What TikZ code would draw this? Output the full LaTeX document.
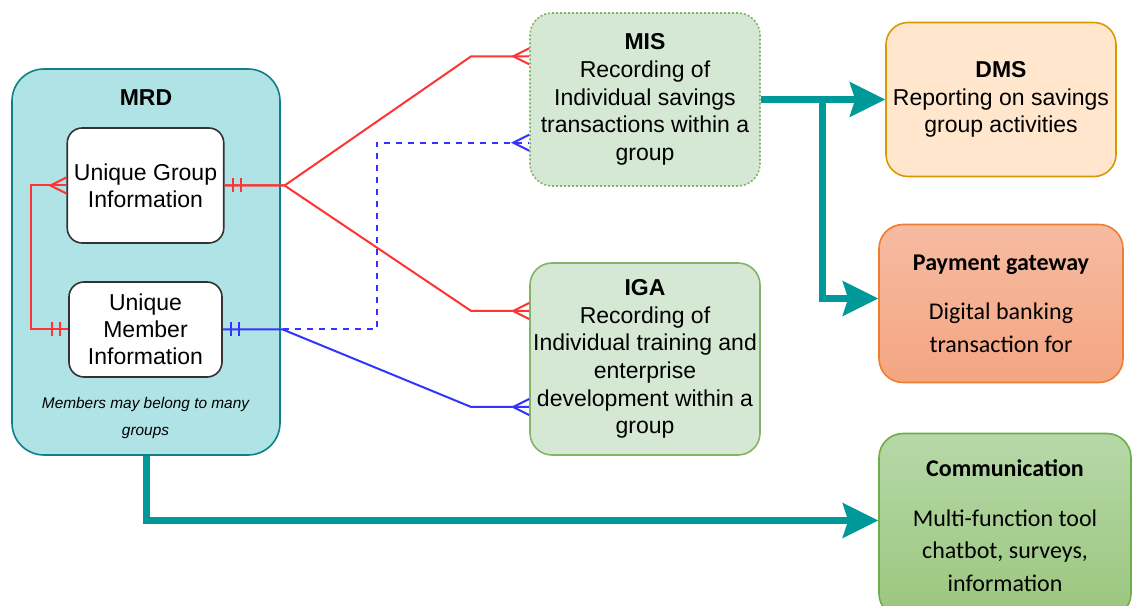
\documentclass[tikz,border=0pt]{standalone}
\usepackage{fontspec}
\setmainfont{Liberation Sans}
\newfontfamily\calibri{Carlito}
\usetikzlibrary{arrows.meta,decorations.markings}

\definecolor{mrdfill}{HTML}{B0E3E6}
\definecolor{mrdline}{HTML}{0E8088}
\definecolor{misfill}{HTML}{D5E8D4}
\definecolor{misline}{HTML}{82B366}
\definecolor{dmsfill}{HTML}{FFE6CC}
\definecolor{dmsline}{HTML}{D79B00}
\definecolor{paytop}{HTML}{F6BBA2}
\definecolor{paybot}{HTML}{F4A581}
\definecolor{payline}{HTML}{ED7D31}
\definecolor{comtop}{HTML}{B6D8A8}
\definecolor{combot}{HTML}{9BC67E}
\definecolor{comline}{HTML}{70AD47}
\definecolor{flowteal}{HTML}{009999}
\definecolor{relred}{HTML}{FF3333}
\definecolor{relblue}{HTML}{3333FF}

\tikzstyle{container} = [rectangle, rounded corners=16pt, draw=mrdline, fill=mrdfill, line width=0.8pt, minimum width=134pt, minimum height=193pt]
\tikzstyle{entity} = [rectangle, rounded corners=7.5pt, draw=black!80, fill=white, line width=0.8pt, minimum width=76.5pt, align=center, font=\fontsize{11.5}{13.6}\selectfont]
\tikzstyle{module} = [rectangle, rounded corners=11pt, draw=misline, fill=misfill, line width=0.8pt, minimum width=115pt, inner xsep=1pt, align=center, font=\fontsize{11.5}{13.8}\selectfont]
\tikzstyle{report} = [module, draw=dmsline, fill=dmsfill]
\tikzstyle{service} = [rectangle, rounded corners=12pt, line width=0.8pt, align=center, font=\calibri\fontsize{12}{16.3}\selectfont]
\tikzstyle{flow} = [flowteal, line width=3.5pt, -{Stealth[length=18pt, width=18pt, inset=3pt, line width=0pt]}]
\tikzstyle{redrel} = [relred, line width=1pt]
\tikzstyle{bluerel} = [relblue, line width=1pt]

\tikzset{
  one start/.style={postaction={decorate, decoration={markings,
    mark=at position 4pt with {\draw[solid] (0,-3.5pt) -- (0,3.5pt);},
    mark=at position 8pt with {\draw[solid] (0,-3.5pt) -- (0,3.5pt);}}}},
  many end/.style={postaction={decorate, decoration={markings,
    mark=at position 1 with {\draw[solid] (0,4pt) -- (-8pt,0) -- (0,-4pt);}}}}
}

\begin{document}
\begin{tikzpicture}
    \useasboundingbox (0,0) rectangle (567pt,302.5pt);
    \clip (0,0) rectangle (567pt,302.5pt);

    \node (mrd) [container, label={[yshift=-22.4pt, font=\fontsize{11.5}{13.8}\selectfont]north:{\textbf{MRD}}}] at (73pt,171.5pt) {};
    \node (ugi) [entity, minimum height=57.5pt] at (72.75pt,209.75pt) {Unique Group\\Information};
    \node (umi) [entity, minimum height=47.5pt, below of=ugi, node distance=72pt] {Unique\\Member\\Information};
    \node (note) [below of=umi, node distance=44.5pt, align=center, font=\itshape\fontsize{7.7}{13.5}\selectfont] {Members may belong to many\\groups};

    \node (mis) [module, dash pattern=on 1pt off 1pt, minimum height=86.5pt] at (322.5pt,252.75pt) {\textbf{MIS}\\Recording of\\Individual savings\\transactions within a\\group};
    \node (iga) [module, minimum height=96pt, below of=mis, node distance=129.75pt] {\textbf{IGA}\\Recording of\\Individual training and\\enterprise\\development within a\\group};

    \node (dms) [report, minimum height=77pt, right of=mis, node distance=178pt] {\textbf{DMS}\\Reporting on savings\\group activities};
    \node (pay) [service, draw=payline, top color=paytop, bottom color=paybot, minimum width=122pt, minimum height=79pt, below of=dms, node distance=102pt] {\textbf{Payment gateway}\\[8.5pt]Digital banking\\transaction for};
    \node (comm) [service, draw=comline, top color=comtop, bottom color=combot, minimum width=126pt, minimum height=92pt, below of=pay, node distance=111pt, xshift=2pt] {\textbf{Communication}\\[8.5pt]Multi-function tool\\chatbot, surveys,\\information};

    % relationship lines
    \coordinate (redfork) at ([xshift=30pt]ugi.east);
    \coordinate (bluefork) at ([xshift=30pt]umi.east);
    \coordinate (misA) at ([yshift=21.6pt]mis.west);
    \coordinate (misB) at ([yshift=-21.6pt]mis.west);
    \coordinate (igaA) at ([yshift=24pt]iga.west);
    \coordinate (igaB) at ([yshift=-24pt]iga.west);

    \draw [redrel, one start, many end] (umi.west) -- ++(-18.5pt,0) |- (ugi.west);
    \draw [redrel, one start, many end] (ugi.east) -- (redfork) -- ([xshift=-29pt]misA) -- (misA);
    \draw [redrel, one start, many end] (ugi.east) -- (redfork) -- ([xshift=-29pt]igaA) -- (igaA);
    \draw [bluerel, one start, many end] (umi.east) -- (bluefork) -- ([xshift=-29pt]igaB) -- (igaB);
    \draw [bluerel, dashed, many end] (bluefork) -- ([xshift=47pt]bluefork) |- (misB);

    % data flows
    \coordinate (fork) at ([xshift=31pt]mis.east);
    \draw [flow] (mis.east) -- (dms.west);
    \draw [flow] (fork) |- ([yshift=2.5pt]pay.west);
    \draw [flow] (mrd.south) |- ([yshift=2.5pt]comm.west);

\end{tikzpicture}
\end{document}
